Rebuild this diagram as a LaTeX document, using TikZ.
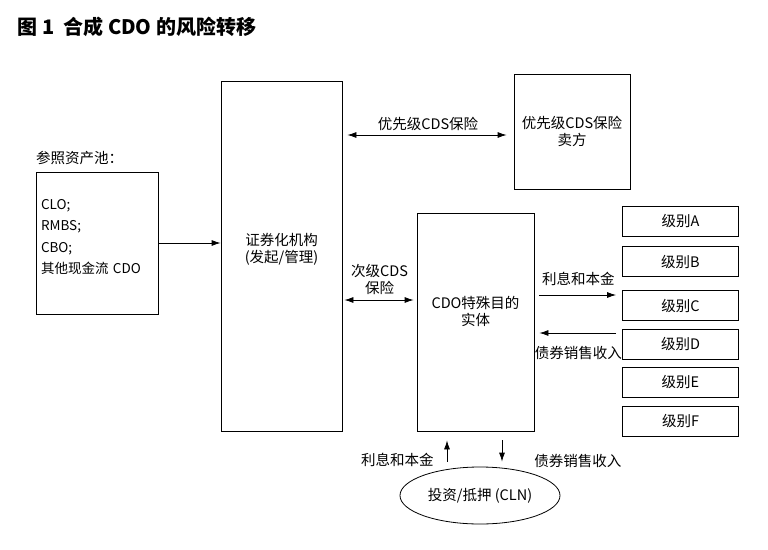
\documentclass[tikz,border=0pt]{standalone}
\usepackage{fontspec}
\setmainfont{Noto Sans CJK SC}
\usepackage{tikz}
\usetikzlibrary{shapes,arrows,arrows.meta,positioning,calc}

\begin{document}
\begin{tikzpicture}[
    x=1pt, y=-1pt,
    node distance=10pt,
    box/.style={rectangle, draw, align=center, line width=0.8pt, font=\fontsize{14.5}{17}\selectfont},
    tranche/.style={box, minimum width=116pt, minimum height=30pt},
    lbl/.style={align=center, inner sep=1pt, font=\fontsize{14.5}{17}\selectfont},
    arrow/.style={-{Latex[length=9pt,width=6pt]}, line width=0.8pt},
    dblarrow/.style={{Latex[length=9pt,width=6pt]}-{Latex[length=9pt,width=6pt]}, line width=0.8pt}
]
\useasboundingbox (0,0) rectangle (768,549);

% Title
\node[anchor=west, font=\fontsize{20}{22}\selectfont\bfseries] (title) at (14,27) {图 1\ \ 合成 CDO 的风险转移};

% Nodes
\node[lbl, anchor=west] (poollbl) at (35,158) {参照资产池：};
\node[box, minimum width=122pt, minimum height=142pt, text width=112pt, align=left,
      font=\fontsize{13.5}{21.5}\selectfont] (pool) at (97,243)
      {CLO;\\RMBS;\\CBO;\\其他现金流 CDO\\[-15pt]\strut};

\node[box, minimum width=121pt, minimum height=350pt] (sec) at (281.5,256) {证券化机构\\(发起/管理)\\[-5pt]\strut};

\node[box, minimum width=116pt, minimum height=115pt] (seller) at (572,131.5) {优先级CDS保险\\卖方};

\node[box, minimum width=117pt, minimum height=218pt] (spv) at (475.5,322) {CDO特殊目的\\实体\\\strut};

\node[tranche] (trA) at (680.5,221) {级别A};
\node[tranche, below=10pt of trA] (trB) {级别B};
\node[tranche, below=13pt of trB] (trC) {级别C};
\node[tranche, below=8pt of trC] (trD) {级别D};
\node[tranche, below=7pt of trD] (trE) {级别E};
\node[tranche, below=8pt of trE] (trF) {级别F};

\node[ellipse, draw, line width=0.8pt, minimum width=160pt, minimum height=57pt,
      font=\fontsize{14.5}{17}\selectfont] (cln) at (480,495.5) {投资/抵押 (CLN)};

% Edges
\draw[arrow] (pool.east) -- (pool.east -| sec.west);

\draw[dblarrow, shorten <=5pt, shorten >=7pt] ([yshift=-3.5pt]seller.west -| sec.east) -- ([yshift=-3.5pt]seller.west)
    node[lbl, midway, above=3pt] (senior) {优先级CDS保险};

\draw[dblarrow, shorten <=2pt, shorten >=3pt] ([yshift=22pt]spv.west -| sec.east) -- ([yshift=22pt]spv.west)
    node[lbl, midway, above=4pt] (junior) {次级CDS\\保险};

\draw[arrow, shorten <=5pt, shorten >=6pt] ([yshift=27pt]spv.east) -- ([yshift=27pt]spv.east -| trC.west)
    node[lbl, midway, above=8pt] (intr) {利息和本金};
\draw[arrow, shorten <=6pt, shorten >=5pt] ([yshift=-11pt]spv.east -| trD.west) -- ([yshift=-11pt]spv.east)
    node[lbl, midway, below=12pt] (proc) {债券销售收入};

\draw[arrow, shorten <=5pt, shorten >=9pt] ([xshift=-33pt]cln.north) -- ([xshift=-28.5pt]spv.south)
    node[lbl, pos=0.2, left=12pt] (intr2) {利息和本金};
\draw[arrow, shorten <=9pt, shorten >=5pt] ([xshift=26.5pt]spv.south) -- ([xshift=22pt]cln.north)
    node[lbl, pos=0.85, right=31pt] (proc2) {债券销售收入};

\end{tikzpicture}
\end{document}
